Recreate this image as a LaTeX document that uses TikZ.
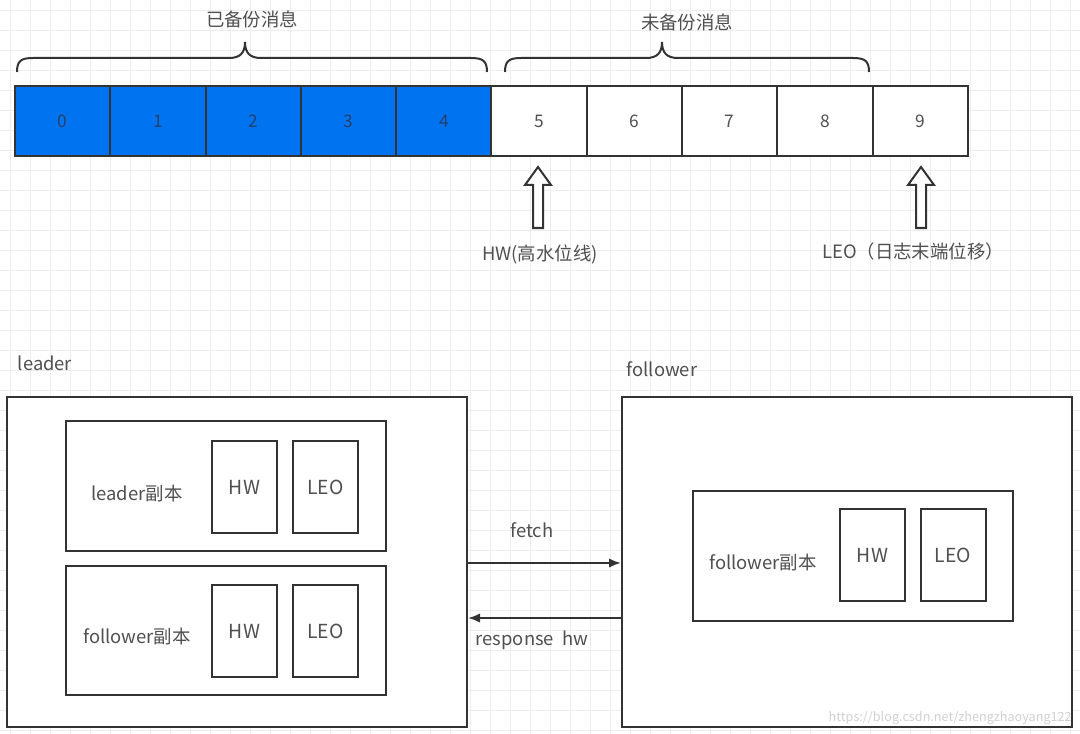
\documentclass[tikz,border=0pt]{standalone}
\usepackage{fontspec}
\setmainfont{Noto Sans CJK SC}
\usetikzlibrary{calc,arrows.meta}
\definecolor{linec}{HTML}{333333}
\definecolor{txtc}{HTML}{505050}
\definecolor{bluec}{HTML}{0073F0}
\definecolor{bluetxt}{HTML}{23406E}
\definecolor{gridc}{HTML}{EDEDED}
\begin{document}
\begin{tikzpicture}[x=0.75pt,y=-0.75pt,
  box/.style={draw=linec, line width=1.5pt, fill=white, inner sep=0pt},
  cell/.style={box, minimum width=71.5pt, minimum height=52.5pt, text=txtc, font=\fontsize{13}{15}\selectfont},
  bcell/.style={cell, fill=bluec, text=bluetxt},
  small/.style={box, minimum width=48.75pt, minimum height=69pt, text=txtc, font=\fontsize{14.5}{17}\selectfont},
  lbl/.style={text=txtc, inner sep=0pt, font=\fontsize{13.8}{16}\selectfont},
  hollow/.style={draw=linec, line width=1.5pt, fill=white, line join=miter},
  brc/.style={draw=linec, line width=1.5pt},
  conn/.style={draw=linec, line width=1.5pt, -{Latex[length=9pt,width=7pt]}}
]
\useasboundingbox (0,0) rectangle (1080,734);
\fill[white] (0,0) rectangle (1080,734);
\foreach \i in {10,30,...,1070} \draw[gridc, line width=0.5pt] (\i,0) -- (\i,734);
\foreach \j in {10,30,...,730} \draw[gridc, line width=0.5pt] (0,\j) -- (1080,\j);

% message cells
\foreach \i in {0,...,4} \node[bcell] (c\i) at ({15+95.3*(\i+0.5)},121) {\i};
\foreach \i in {5,...,9} \node[cell] (c\i) at ({15+95.3*(\i+0.5)},121) {\i};

% braces
\draw[brc] (17,72) .. controls (17,61) and (21,58) .. (33,58) -- (229,58)
  .. controls (240,58) and (245,53) .. (245,42)
  .. controls (245,53) and (250,58) .. (261,58) -- (471,58)
  .. controls (483,58) and (487,61) .. (487,72);
\draw[brc] (505,72) .. controls (505,61) and (509,58) .. (521,58) -- (646,58)
  .. controls (657,58) and (662,53) .. (662,42)
  .. controls (662,53) and (667,58) .. (678,58) -- (853,58)
  .. controls (865,58) and (869,61) .. (869,72);
\node[lbl] (done) at (252,19) {已备份消息};
\node[lbl] (todo) at (687,22) {未备份消息};

% hollow arrows
\draw[hollow] (533,228) -- (533,185) -- (525,185) -- (538,167) -- (551,185) -- (543,185) -- (543,228) -- cycle;
\draw[hollow] (916,228) -- (916,185) -- (908,185) -- (921,167) -- (934,185) -- (926,185) -- (926,228) -- cycle;
\node[lbl] (hwl) at (540,255) {HW(高水位线)};
\node[lbl] (leol) at (913,252) {LEO（日志末端位移）};

% leader side
\node[lbl] (leaderl) at (45,363) {leader};
\node[box, minimum width=345pt, minimum height=247.5pt] (leader) at (237,562) {};
\node[box, minimum width=240pt, minimum height=97.5pt] (lr) at (226,486) {};
\node[small] (lhw) at (244.5,487) {HW};
\node[small] (lleo) at (325.5,487) {LEO};
\node[lbl] (lrl) at (137,494) {leader副本};
\node[box, minimum width=240pt, minimum height=96.75pt] (lf) at (226,630.5) {};
\node[small] (lfhw) at (244.5,631) {HW};
\node[small] (lfleo) at (325.5,631) {LEO};
\node[lbl] (lfl) at (137,637) {follower副本};

% follower side
\node[lbl] (followerl) at (662,369) {follower};
\node[box, minimum width=337.5pt, minimum height=247.5pt] (follower) at (847,562) {};
\node[box, minimum width=240pt, minimum height=97.5pt] (fr) at (853,556) {};
\node[small] (fhw) at (872.5,555) {HW};
\node[small] (fleo) at (953,555) {LEO};
\node[lbl] (frl) at (763,563) {follower副本};

% connectors
\draw[conn] (leader.east |- 0,563) -- (follower.west |- 0,563);
\draw[conn] (follower.west |- 0,618) -- (leader.east |- 0,618);
\node[lbl] (fetchl) at (532,530) {fetch};
\node[lbl] (respl) at (532,640) {response\ \ hw};

\node[text=black!18, inner sep=0pt, font=\fontsize{9.5}{11}\selectfont, anchor=east] (wm) at (1072,718) {https://blog.csdn.net/zhengzhaoyang122};
\end{tikzpicture}
\end{document}
